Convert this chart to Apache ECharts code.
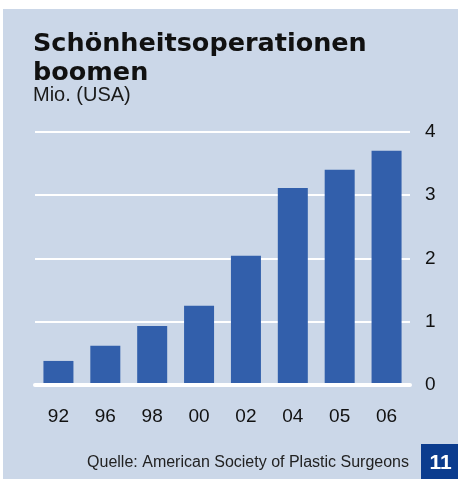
<!DOCTYPE html>
<html><head><meta charset="utf-8">
<script src="https://cdn.jsdelivr.net/npm/echarts@6/dist/echarts.min.js"></script>
<style>html,body{margin:0;padding:0;background:#fff}#c{width:458px;height:479px}</style>
</head><body><div id="c"></div>
<script>
const categories = ['92','96','98','00','02','04','05','06'];
const values = [0.38, 0.62, 0.93, 1.25, 2.04, 3.11, 3.40, 3.70];
const yTicks = [0, 1, 2, 3, 4];
const titleText = 'Schönheitsoperationen\nboomen';
const unitText = 'Mio. (USA)';
const sourceText = 'Quelle: American Society of Plastic Surgeons';
const pageNumber = '11';

const chart = echarts.init(document.getElementById('c'), null, {renderer: 'canvas'});
const font = '"Liberation Sans", Arial, Helvetica, sans-serif';
const titleFont = '"DejaVu Sans", "Liberation Sans", sans-serif';
chart.setOption({
  backgroundColor: '#ffffff',
  animation: false,
  title: [{
    text: titleText,
    left: 33, top: 30, padding: 0,
    textStyle: {fontFamily: titleFont, fontSize: 25.5, fontWeight: 'bold', color: '#111', lineHeight: 29}
  }, {
    text: unitText,
    left: 33, top: 85, padding: 0,
    textStyle: {fontFamily: font, fontSize: 20, fontWeight: 'normal', color: '#1a1a1a'}
  }],
  graphic: [
    {type: 'rect', z: -10, shape: {x: 3, y: 9, width: 460, height: 475}, style: {fill: '#cbd7e8'}},
    {type: 'rect', z: 10, shape: {x: 421, y: 444, width: 40, height: 40}, style: {fill: '#0b3c8e'}},
    {type: 'text', z: 11, x: 440.5, y: 463, style: {text: pageNumber, fill: '#fff', font: 'bold 21px ' + font, textAlign: 'center', textVerticalAlign: 'middle'}},
    {type: 'text', z: 11, x: 409, y: 463, style: {text: sourceText, fill: '#222', font: '16px ' + font, textAlign: 'right', textVerticalAlign: 'middle'}}
  ],
  grid: {left: 35, right: 48, top: 131.7, bottom: 94, containLabel: false},
  xAxis: {
    type: 'category', data: categories, z: 5,
    axisLine: {lineStyle: {color: '#fff', width: 4, cap: 'round'}},
    axisTick: {show: false},
    axisLabel: {fontFamily: font, fontSize: 19, color: '#111', margin: 22}
  },
  yAxis: {
    type: 'value', position: 'right', min: 0, max: 4, interval: 1,
    axisLine: {show: false}, axisTick: {show: false},
    splitLine: {lineStyle: {color: '#fff', width: 2}},
    axisLabel: {fontFamily: font, fontSize: 19, color: '#111', margin: 15, align: 'left',
      formatter: v => yTicks.includes(v) ? String(v) : ''}
  },
  series: [{
    type: 'bar', data: values, barWidth: '64%',
    itemStyle: {color: '#325fab'}
  }]
});
</script></body></html>
